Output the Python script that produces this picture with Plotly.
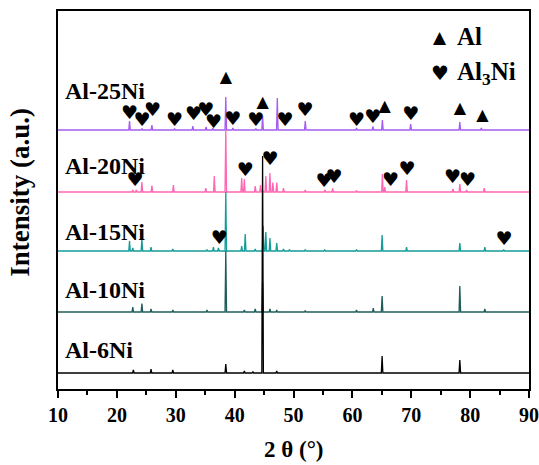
import plotly.graph_objects as go

# ---------------- data ----------------
x_min, x_max = 10, 90
x_ticks = [10, 20, 30, 40, 50, 60, 70, 80, 90]

samples = ["Al-6Ni", "Al-10Ni", "Al-15Ni", "Al-20Ni", "Al-25Ni"]
colors = ["#000000", "#1e5c59", "#159c98", "#ff66b3", "#a45cf2"]
baselines = [16, 77, 138, 197, 259]          # vertical stacking offsets (a.u.)
label_y = [39, 99, 157, 223.5, 298]          # label heights (a.u.)

al6_pos = [22.8, 25.8, 29.5, 38.5, 41.65, 43.1, 44.75, 47.15, 65.05, 78.25]
al6_int = [3, 4, 3, 9, 2, 1.5, 217, 2, 17, 13]

al10_pos = [22.7, 24.25, 25.8, 29.5, 35.3, 38.5, 41.65, 43.5, 44.75, 46.0, 47.15,
            52.0, 60.7, 63.55, 65.05, 78.25, 82.5]
al10_int = [5, 8.5, 3, 2, 2, 61, 2, 3, 30, 3, 2,
            1.5, 2, 4, 16, 26, 3]

al15_pos = [22.15, 22.7, 24.25, 25.8, 29.5, 35.3, 36.4, 37.25, 38.5, 41.2, 41.8,
            43.5, 44.85, 45.3, 46.0, 47.15, 48.3, 49.3, 52.0, 55.3, 60.7, 65.05,
            69.2, 78.25, 82.5, 85.7]
al15_int = [10, 3, 12, 4, 2, 1.5, 4, 3, 59, 5, 17,
            2, 25, 19, 13, 8, 2, 1.5, 1.5, 1.5, 1.5, 16,
            4, 8, 4, 1.5]

al20_pos = [22.7, 23.3, 24.25, 25.95, 29.6, 35.1, 36.55, 38.5, 41.2, 41.65, 43.5,
            44.4, 45.3, 46.0, 46.5, 47.15, 48.3, 52.0, 55.35, 56.65, 60.7, 65.1,
            65.5, 69.2, 77.1, 78.25, 79.4, 82.4]
al20_int = [2, 2, 10, 6.5, 7, 4, 16, 62, 14, 13, 6,
            7, 16, 19, 9.5, 9.5, 4, 2, 2, 3.5, 1.5, 18,
            5, 12, 3, 8, 2, 4]

al25_pos = [22.15, 24.25, 25.95, 29.8, 32.9, 35.15, 36.3, 38.5, 39.7, 43.6, 44.75,
            47.25, 52.0, 60.7, 63.5, 65.1, 69.9, 78.25, 81.9]
al25_int = [9, 1.5, 5, 1.5, 4, 3, 2, 33, 2, 1.5, 14,
            32, 9, 2, 3.5, 10, 6, 8, 2]

peak_pos = [al6_pos, al10_pos, al15_pos, al20_pos, al25_pos]
peak_int = [al6_int, al10_int, al15_int, al20_int, al25_int]

# phase markers (2theta, height in a.u.)
al_tri_x = [38.5, 44.75, 65.5, 78.25, 82.1]
al_tri_y = [310.7, 285.7, 281.7, 279.7, 273]

al3ni_x = [22.15, 24.25, 26.05, 29.8, 33.0, 35.1, 36.4, 39.7, 43.6, 48.55, 51.95,
           60.7, 63.45, 69.9,
           23.1, 41.8, 46.0, 55.2, 56.9, 66.5, 69.3, 77.0, 79.55,
           37.4, 85.75]
al3ni_y = [275, 267.3, 277.3, 267.3, 273.3, 278, 265.7, 269, 268, 267.3, 277.3,
           267.3, 270.7, 274,
           207.3, 217.3, 229, 206.3, 210.7, 207.3, 219, 210.7, 207.3,
           149.7, 149]

# ---------------- figure ----------------
def pattern(pos, inten, base, w=0.13):
    xs, ys = [x_min], [base]
    for p, h in sorted(zip(pos, inten)):
        xs += [p - w, p, p + w]
        ys += [base, base + h, base]
    xs.append(x_max)
    ys.append(base)
    return xs, ys

fig = go.Figure()
# draw top pattern first so lower patterns lie on top
for i in reversed(range(len(samples))):
    xs, ys = pattern(peak_pos[i], peak_int[i], baselines[i])
    fig.add_trace(go.Scatter(x=xs, y=ys, mode="lines", name=samples[i],
                             line=dict(color=colors[i], width=1.3),
                             hoverinfo="skip", showlegend=False))

fig.add_trace(go.Scatter(x=al_tri_x, y=al_tri_y, mode="text", text=["▲"] * len(al_tri_x),
                         textfont=dict(family="DejaVu Sans", size=16, color="black"),
                         hoverinfo="skip", showlegend=False))
fig.add_trace(go.Scatter(x=al3ni_x, y=al3ni_y, mode="text", text=["♥"] * len(al3ni_x),
                         textfont=dict(family="DejaVu Sans", size=19, color="black"),
                         hoverinfo="skip", showlegend=False))

serif = "Liberation Serif"
annotations = []
for name, yy in zip(samples, label_y):
    annotations.append(dict(x=10.9, y=yy, xref="x", yref="y", text="<b>%s</b>" % name,
                            showarrow=False, xanchor="left", yanchor="middle",
                            font=dict(family=serif, size=24, color="black")))
# legend
leg = [("▲", "<b>Al</b>", 352.3), ("♥", "<b>Al<sub>3</sub>Ni</b>", 315.7)]
for sym, txt, yy in leg:
    annotations.append(dict(x=74.85, y=yy, xref="x", yref="y", text=sym, showarrow=False,
                            xanchor="center", yanchor="middle",
                            font=dict(family="DejaVu Sans", size=17 if sym == "▲" else 20, color="black")))
    annotations.append(dict(x=77.5, y=yy, xref="x", yref="y", text=txt, showarrow=False,
                            xanchor="left", yanchor="middle",
                            font=dict(family=serif, size=25, color="black")))
# axis titles
annotations.append(dict(x=0.5, y=-0.16, xref="paper", yref="paper", text="<b>2 θ (°)</b>",
                        showarrow=False, xanchor="center", yanchor="middle",
                        font=dict(family=serif, size=23, color="black")))
annotations.append(dict(x=-0.08, y=0.52, xref="paper", yref="paper",
                        text="<b>Intensity (a.u.)</b>", textangle=-90,
                        showarrow=False, xanchor="center", yanchor="middle",
                        font=dict(family=serif, size=27, color="black")))

fig.update_layout(
    width=539, height=465,
    margin=dict(l=58, r=10, t=11, b=76),
    paper_bgcolor="white", plot_bgcolor="white",
    annotations=annotations,
    xaxis=dict(range=[x_min, x_max], tickvals=x_ticks, automargin=False,
               ticktext=["<b>%d</b>" % t for t in x_ticks],
               ticks="outside", ticklen=7, tickwidth=1.5, tickcolor="black",
               minor=dict(dtick=5, ticks="outside", ticklen=4, tickwidth=1.5, tickcolor="black"),
               showline=True, linewidth=2, linecolor="black", mirror=True,
               showgrid=False, zeroline=False,
               tickfont=dict(family=serif, size=20, color="black")),
    yaxis=dict(range=[0, 378], showticklabels=False, ticks="", automargin=False,
               showline=True, linewidth=2, linecolor="black", mirror=True,
               showgrid=False, zeroline=False),
)

fig.write_html("out.html", config={"displayModeBar": False},
               post_script="document.body.style.margin='0';document.body.style.overflow='hidden';")
